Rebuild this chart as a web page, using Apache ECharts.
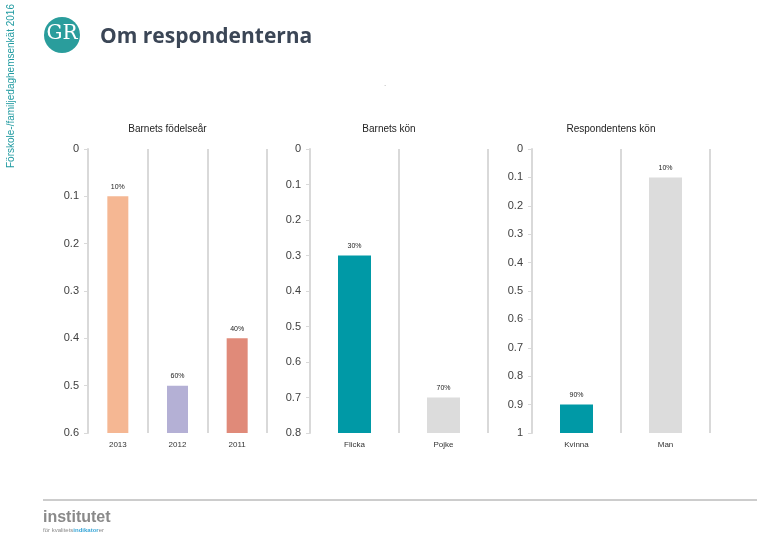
<!DOCTYPE html>
<html><head><meta charset="utf-8">
<script src="https://cdn.jsdelivr.net/npm/echarts@6/dist/echarts.min.js"></script>
<style>html,body{margin:0;padding:0;background:#fff}#c{width:780px;height:540px}</style>
</head><body><div id="c"></div>
<script>
// Panel 1: Barnets födelseår
const cats1 = ['2013', '2012', '2011'];
const vals1 = [0.1, 0.5, 0.4];
const labels1 = ['10%', '60%', '40%'];
const colors1 = ['#f5b793', '#b4b0d5', '#e08a79'];
const max1 = 0.6;
// Panel 2: Barnets kön
const cats2 = ['Flicka', 'Pojke'];
const vals2 = [0.3, 0.7];
const labels2 = ['30%', '70%'];
const colors2 = ['#0099a6', '#dcdcdc'];
const max2 = 0.8;
// Panel 3: Respondentens kön
const cats3 = ['Kvinna', 'Man'];
const vals3 = [0.9, 0.1];
const labels3 = ['90%', '10%'];
const colors3 = ['#0099a6', '#dcdcdc'];
const max3 = 1;
const titles = ['Barnets födelseår', 'Barnets kön', 'Respondentens kön'];

const panels = [
  {cats: cats1, vals: vals1, labels: labels1, colors: colors1, max: max1, left: 88, width: 179, bw: 21},
  {cats: cats2, vals: vals2, labels: labels2, colors: colors2, max: max2, left: 310, width: 178, bw: 33},
  {cats: cats3, vals: vals3, labels: labels3, colors: colors3, max: max3, left: 532, width: 178, bw: 33}
];

const grid = [], xAxis = [], yAxis = [], series = [], graphic = [];
panels.forEach((p, i) => {
  grid.push({left: p.left, top: 149, width: p.width, height: 284});
  xAxis.push({
    type: 'category', gridIndex: i, data: p.cats,
    axisLine: {show: false}, axisTick: {show: false},
    axisLabel: {fontSize: 8, color: '#333', margin: 8, fontFamily: 'Liberation Sans'},
    splitLine: {show: true, lineStyle: {color: '#d9d9d9', width: 2}}
  });
  yAxis.push({
    type: 'value', gridIndex: i, inverse: true, min: 0, max: p.max, interval: 0.1,
    axisLine: {show: true, lineStyle: {color: '#d9d9d9', width: 2}},
    axisTick: {show: true, length: 4, lineStyle: {color: '#d9d9d9'}},
    axisLabel: {fontSize: 11, color: '#404040', margin: 9, fontFamily: 'Liberation Sans'},
    splitLine: {show: false}
  });
  series.push({
    type: 'bar', xAxisIndex: i, yAxisIndex: i, stack: 's' + i, barWidth: p.bw,
    data: p.vals, itemStyle: {color: 'transparent'}, silent: true
  });
  series.push({
    type: 'bar', xAxisIndex: i, yAxisIndex: i, stack: 's' + i, barWidth: p.bw,
    data: p.vals.map((v, j) => ({value: +(p.max - v).toFixed(4), itemStyle: {color: p.colors[j]}, lbl: p.labels[j]})),
    label: {show: true, position: 'top', fontSize: 7, color: '#222', distance: 6,
      formatter: (d) => d.data.lbl}
  });
  graphic.push({type: 'text', x: p.left + p.width / 2 - 10, y: 129,
    style: {text: titles[i], font: '10px "Liberation Sans"', fill: '#222', align: 'center', verticalAlign: 'middle'}});
});

// header
graphic.push({type: 'circle', shape: {cx: 62, cy: 35, r: 18}, style: {fill: '#2a9d9c'}});
graphic.push({type: 'text', x: 62, y: 34, style: {text: 'GR', font: '20px "DejaVu Serif"', fill: '#fff', align: 'center', verticalAlign: 'middle'}});
graphic.push({type: 'text', x: 100, y: 37, style: {text: 'Om respondenterna', font: 'bold 21px "Open Sans"', fill: '#3b4656', verticalAlign: 'middle'}});
graphic.push({type: 'text', x: 11, y: 168, rotation: Math.PI / 2, style: {text: 'Förskole-/familjedaghemsenkät 2016', font: '10px "Liberation Sans Narrow", "Liberation Sans"', fill: '#1f9aa0', verticalAlign: 'middle', align: 'left'}});
graphic.push({type: 'text', x: 384, y: 80, style: {text: '.', font: '8px "Liberation Sans"', fill: '#999'}});
// footer
graphic.push({type: 'line', shape: {x1: 43, y1: 500, x2: 757, y2: 500}, style: {stroke: '#9a9a9a', lineWidth: 1}});
graphic.push({type: 'text', x: 43, y: 518, style: {text: 'institutet', font: 'bold 16px "Liberation Sans"', fill: '#8a8a8a', verticalAlign: 'middle'}});
graphic.push({type: 'text', x: 43, y: 530, style: {
  text: '{a|för kvalitets}{b|indikator}{a|er}', verticalAlign: 'middle',
  rich: {a: {font: '6px "Liberation Sans"', fill: '#8a8a8a'}, b: {font: 'bold 6px "Liberation Sans"', fill: '#3aa7d8'}}}});

const chart = echarts.init(document.getElementById('c'), null, {renderer: 'canvas'});
chart.setOption({animation: false, grid, xAxis, yAxis, series, graphic});
</script></body></html>
